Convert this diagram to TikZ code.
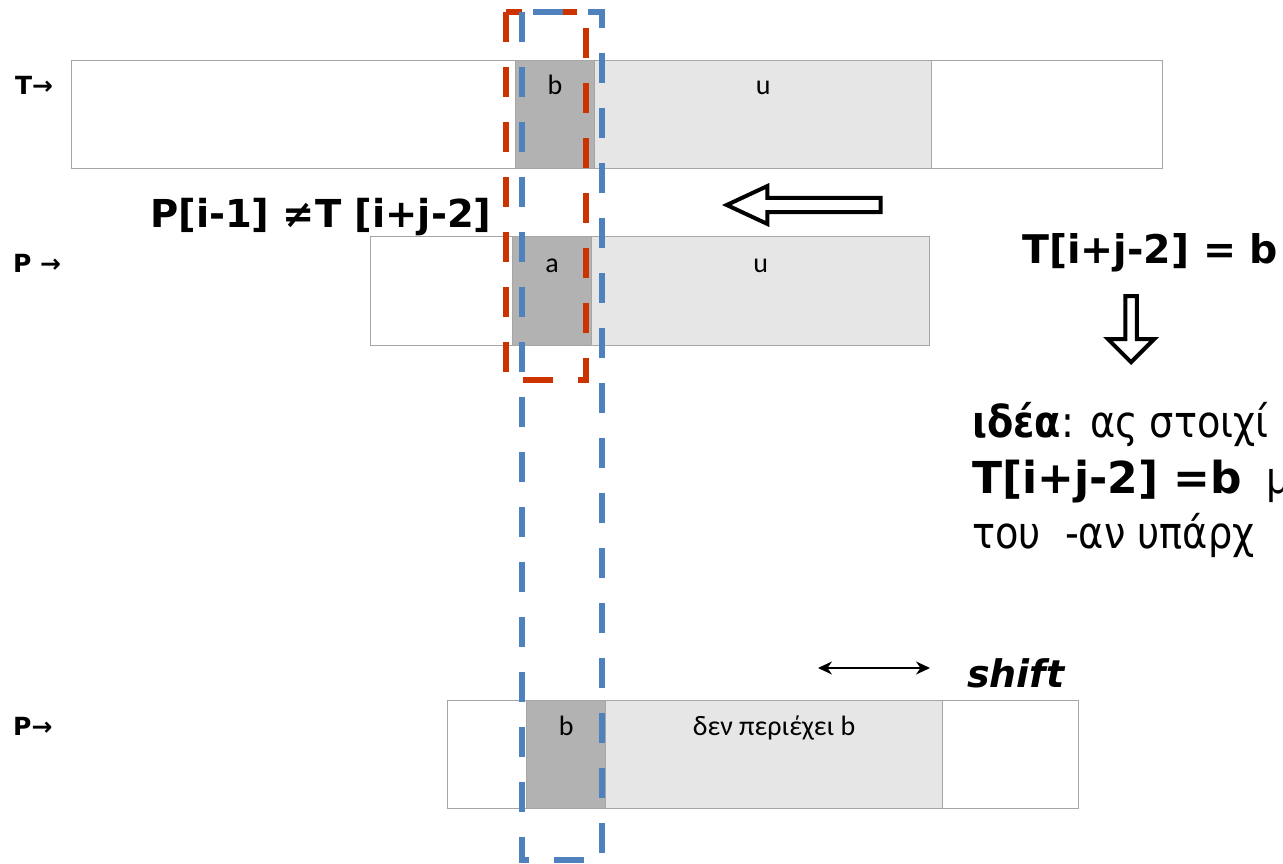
\documentclass[tikz,border=0pt]{standalone}
\usepackage{fontspec}
\setmainfont{DejaVu Sans}
\newfontfamily\cellfont{Carlito}
\newfontfamily\ideafont[FakeStretch=0.87]{DejaVu Sans}
\usepackage{tikz}
\usetikzlibrary{arrows.meta,shapes.arrows,positioning}

\definecolor{cellline}{RGB}{166,166,166}
\definecolor{darkcell}{RGB}{178,178,178}
\definecolor{lightcell}{RGB}{230,230,230}
\definecolor{redbox}{RGB}{204,51,0}
\definecolor{bluebox}{RGB}{79,129,189}

\tikzset{
  cell/.style={draw=cellline, line width=1.2pt, inner sep=0pt,
               anchor=north west, minimum height=108pt},
  celltxt/.style={font=\cellfont\fontsize{28}{32}\selectfont, inner sep=0pt, anchor=base},
  rowname/.style={font=\bfseries\fontsize{25}{30}\selectfont, inner sep=0pt, anchor=base west},
  bigtxt/.style={font=\bfseries\fontsize{38.5}{44}\selectfont, inner sep=0pt, anchor=base west},
  ideatxt/.style={font=\ideafont\fontsize{44}{48}\selectfont, inner sep=0pt, anchor=base west},
  hollow/.style={single arrow, draw=black, fill=white, line width=4pt,
                 single arrow head indent=0pt},
  window/.style={line width=6.5pt, dash pattern=on 30pt off 25pt}
}

\begin{document}
\begin{tikzpicture}[x=1pt,y=-1pt]
  \useasboundingbox[fill=white] (0,0) rectangle (1283,864);
  % text T
  \node[cell, minimum width=1091pt] (Trow) at (71,60) {};
  \node[cell, fill=darkcell, minimum width=79pt] (Tb) at (515,60) {};
  \node[cell, fill=lightcell, minimum width=337pt] (Tu) at (594,60) {};
  \node[celltxt] (Tbtxt) at ([yshift=-35pt]Tb.north) {b};
  \node[celltxt] (Tutxt) at ([yshift=-35pt]Tu.north) {u};
  % pattern P, mismatch
  \node[cell, minimum width=559pt, minimum height=109pt] (Prow) at (370,236) {};
  \node[cell, fill=darkcell, minimum width=79pt, minimum height=109pt] (Pa) at (512,236) {};
  \node[cell, fill=lightcell, minimum width=338pt, minimum height=109pt] (Pu) at (591,236) {};
  \node[celltxt] (Patxt) at ([yshift=-36pt]Pa.north) {a};
  \node[celltxt] (Putxt) at ([yshift=-36pt]Pu.north) {u};
  % pattern P, shifted
  \node[cell, minimum width=631pt] (Qrow) at (447,700) {};
  \node[cell, fill=darkcell, minimum width=79pt] (Qb) at (526,700) {};
  \node[cell, fill=lightcell, minimum width=337pt] (Qu) at (605,700) {};
  \node[celltxt] (Qbtxt) at ([yshift=-35pt]Qb.north) {b};
  \node[celltxt] (Qutxt) at ([yshift=-35pt]Qu.north) {δεν περιέχει b};
  % row names
  \node[rowname] (Tname) at (15,95) {T→};
  \node[rowname] (Pname) at (13,272) {P →};
  \node[rowname] (Qname) at (13,735) {P→};
  % windows
  \draw[redbox, window] (506,12) rectangle (586,380);
  \draw[bluebox, window] (522,12) rectangle (602,860);
  % labels
  \node[bigtxt] (mismatch) at (150,227) {P[i-1] ≠T [i+j-2]};
  \node[bigtxt, font=\bfseries\fontsize{39.5}{44}\selectfont] (match) at (1022,263) {T[i+j-2] = b};
  \node[hollow, shape border rotate=180, minimum height=154pt, minimum width=38pt,
        single arrow head extend=9pt, single arrow tip angle=50, anchor=tip] (leftarr) at (722,205) {};
  \node[hollow, shape border rotate=270, minimum height=66pt, minimum width=46pt,
        single arrow head extend=16pt, single arrow tip angle=90, anchor=tip] (downarr) at (1131,365) {};
  \node[ideatxt] (idea1) at (972,437) {\textbf{ιδέα}: ας στοιχί};
  \node[ideatxt] (idea2) at (972,493) {{\normalfont\bfseries\fontsize{44}{48}\selectfont T[i+j-2] =b}\ \ μ};
  \node[ideatxt] (idea3) at (972,548) {του\ \ -αν υπάρχ};
  % shift
  \coordinate (shL) at (818,668);
  \coordinate (shR) at (930,668);
  \draw[{Stealth[length=14pt,width=13pt]}-{Stealth[length=14pt,width=13pt]}, line width=2.2pt] (shL) -- (shR);
  \node[font=\bfseries\itshape\fontsize{38}{44}\selectfont, inner sep=0pt, anchor=base west] (shift) at (967,687) {shift};
\end{tikzpicture}
\end{document}
